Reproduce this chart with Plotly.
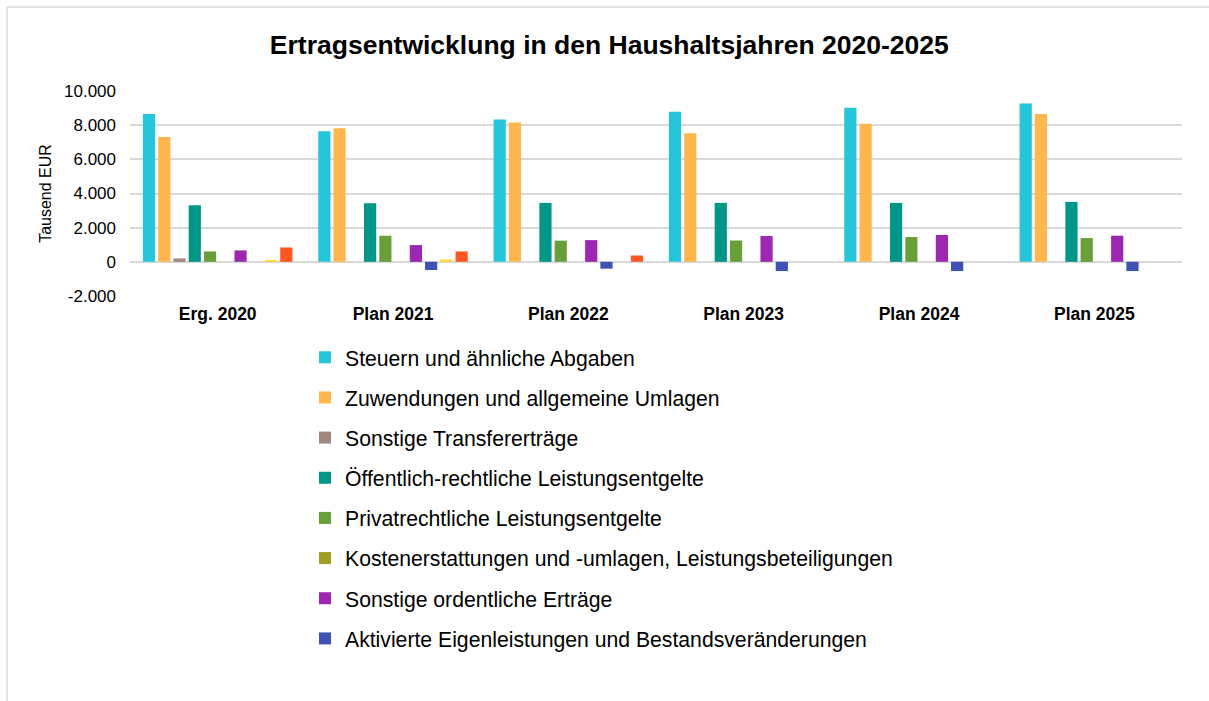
import plotly.graph_objects as go

categories = ["Erg. 2020", "Plan 2021", "Plan 2022", "Plan 2023", "Plan 2024", "Plan 2025"]

series_names = [
    "Steuern und ähnliche Abgaben",
    "Zuwendungen und allgemeine Umlagen",
    "Sonstige Transfererträge",
    "Öffentlich-rechtliche Leistungsentgelte",
    "Privatrechtliche Leistungsentgelte",
    "Kostenerstattungen und -umlagen, Leistungsbeteiligungen",
    "Sonstige ordentliche Erträge",
    "Aktivierte Eigenleistungen und Bestandsveränderungen",
    "Finanzerträge",
    "Außerordentliche Erträge",
]

steuern = [8660, 7640, 8330, 8780, 9020, 9270]
zuwendungen = [7310, 7820, 8150, 7530, 8080, 8660]
transfer = [200, 0, 0, 0, 0, 0]
oeffentlich = [3310, 3430, 3450, 3450, 3450, 3510]
privat = [610, 1530, 1240, 1250, 1450, 1390]
kosten = [0, 0, 0, 0, 0, 0]
sonstige = [670, 980, 1270, 1510, 1570, 1530]
aktiviert = [0, -480, -400, -540, -540, -540]
finanz = [100, 140, 0, 0, 0, 0]
ausserord = [840, 610, 370, 0, 0, 0]

y_tick_values = [-2000, 0, 2000, 4000, 6000, 8000, 10000]
y_tick_labels = ["-2.000", "0", "2.000", "4.000", "6.000", "8.000", "10.000"]

values = [steuern, zuwendungen, transfer, oeffentlich, privat, kosten,
          sonstige, aktiviert, finanz, ausserord]
colors = ["#26C6DA", "#FFB74D", "#A1887F", "#009688", "#689F38", "#9E9D24",
          "#9C27B0", "#3F51B5", "#FDD835", "#FF5722"]
in_legend = [True] * 8 + [False, False]

fig = go.Figure()
for i, (name, vals, col, leg) in enumerate(zip(series_names, values, colors, in_legend)):
    fig.add_trace(go.Bar(
        x=categories, y=vals, name=name,
        marker=dict(color=col, line=dict(width=0)),
        showlegend=leg, legendgroup=f"g{i}",
    ))

W, H = 1209, 701
L, R, T, B = 130, 27, 91, 405
PW, PH = W - L - R, H - T - B

fig.update_layout(
    width=W, height=H,
    autosize=False,
    barmode="group",
    bargap=0.13,
    bargroupgap=0.2,
    paper_bgcolor="white",
    plot_bgcolor="white",
    margin=dict(l=L, r=R, t=T, b=B),
    font=dict(family="Liberation Sans, Arial, sans-serif", color="#000000"),
    title=dict(
        text="<b>Ertragsentwicklung in den Haushaltsjahren 2020-2025</b>",
        x=0.504, xanchor="center", y=1 - 45 / H, yanchor="middle",
        font=dict(size=26.5, color="#000000"),
    ),
    xaxis=dict(
        showgrid=False, showline=False, ticks="",
        tickfont=dict(size=17.5, color="#000000", weight="bold"),
        ticklabelstandoff=5,
    ),
    yaxis=dict(
        range=[-2000, 10000],
        tickmode="array",
        tickvals=y_tick_values,
        ticktext=y_tick_labels,
        showgrid=True, gridcolor="#d9d9d9", gridwidth=1.5,
        zeroline=True, zerolinecolor="#d9d9d9", zerolinewidth=2,
        showline=False, ticks="",
        ticklabelstandoff=13,
        tickfont=dict(size=17, color="#000000"),
        title=dict(text="Tausend EUR", font=dict(size=16, color="#000000"), standoff=8),
    ),
    legend=dict(
        orientation="v",
        x=(305 - L) / PW, xanchor="left",
        y=-(337 - (H - B)) / PH, yanchor="top",
        font=dict(size=21.2, color="#000000"),
        tracegroupgap=9.6,
        itemwidth=30,
        bgcolor="rgba(0,0,0,0)",
    ),
    shapes=[
        dict(type="line", xref="paper", yref="paper",
             x0=-(L - 7) / PW, x1=1 + R / PW,
             y0=1 + (T - 7) / PH, y1=1 + (T - 7) / PH,
             line=dict(color="#d9d9d9", width=1.5)),
        dict(type="line", xref="paper", yref="paper",
             x0=-(L - 7) / PW, x1=-(L - 7) / PW,
             y0=1 + (T - 7) / PH, y1=-(B + 5) / PH,
             line=dict(color="#d9d9d9", width=1.5)),
    ],
)

fig.write_html("out.html",
               config={"displayModeBar": False},
               post_script="document.body.style.margin='0';")
